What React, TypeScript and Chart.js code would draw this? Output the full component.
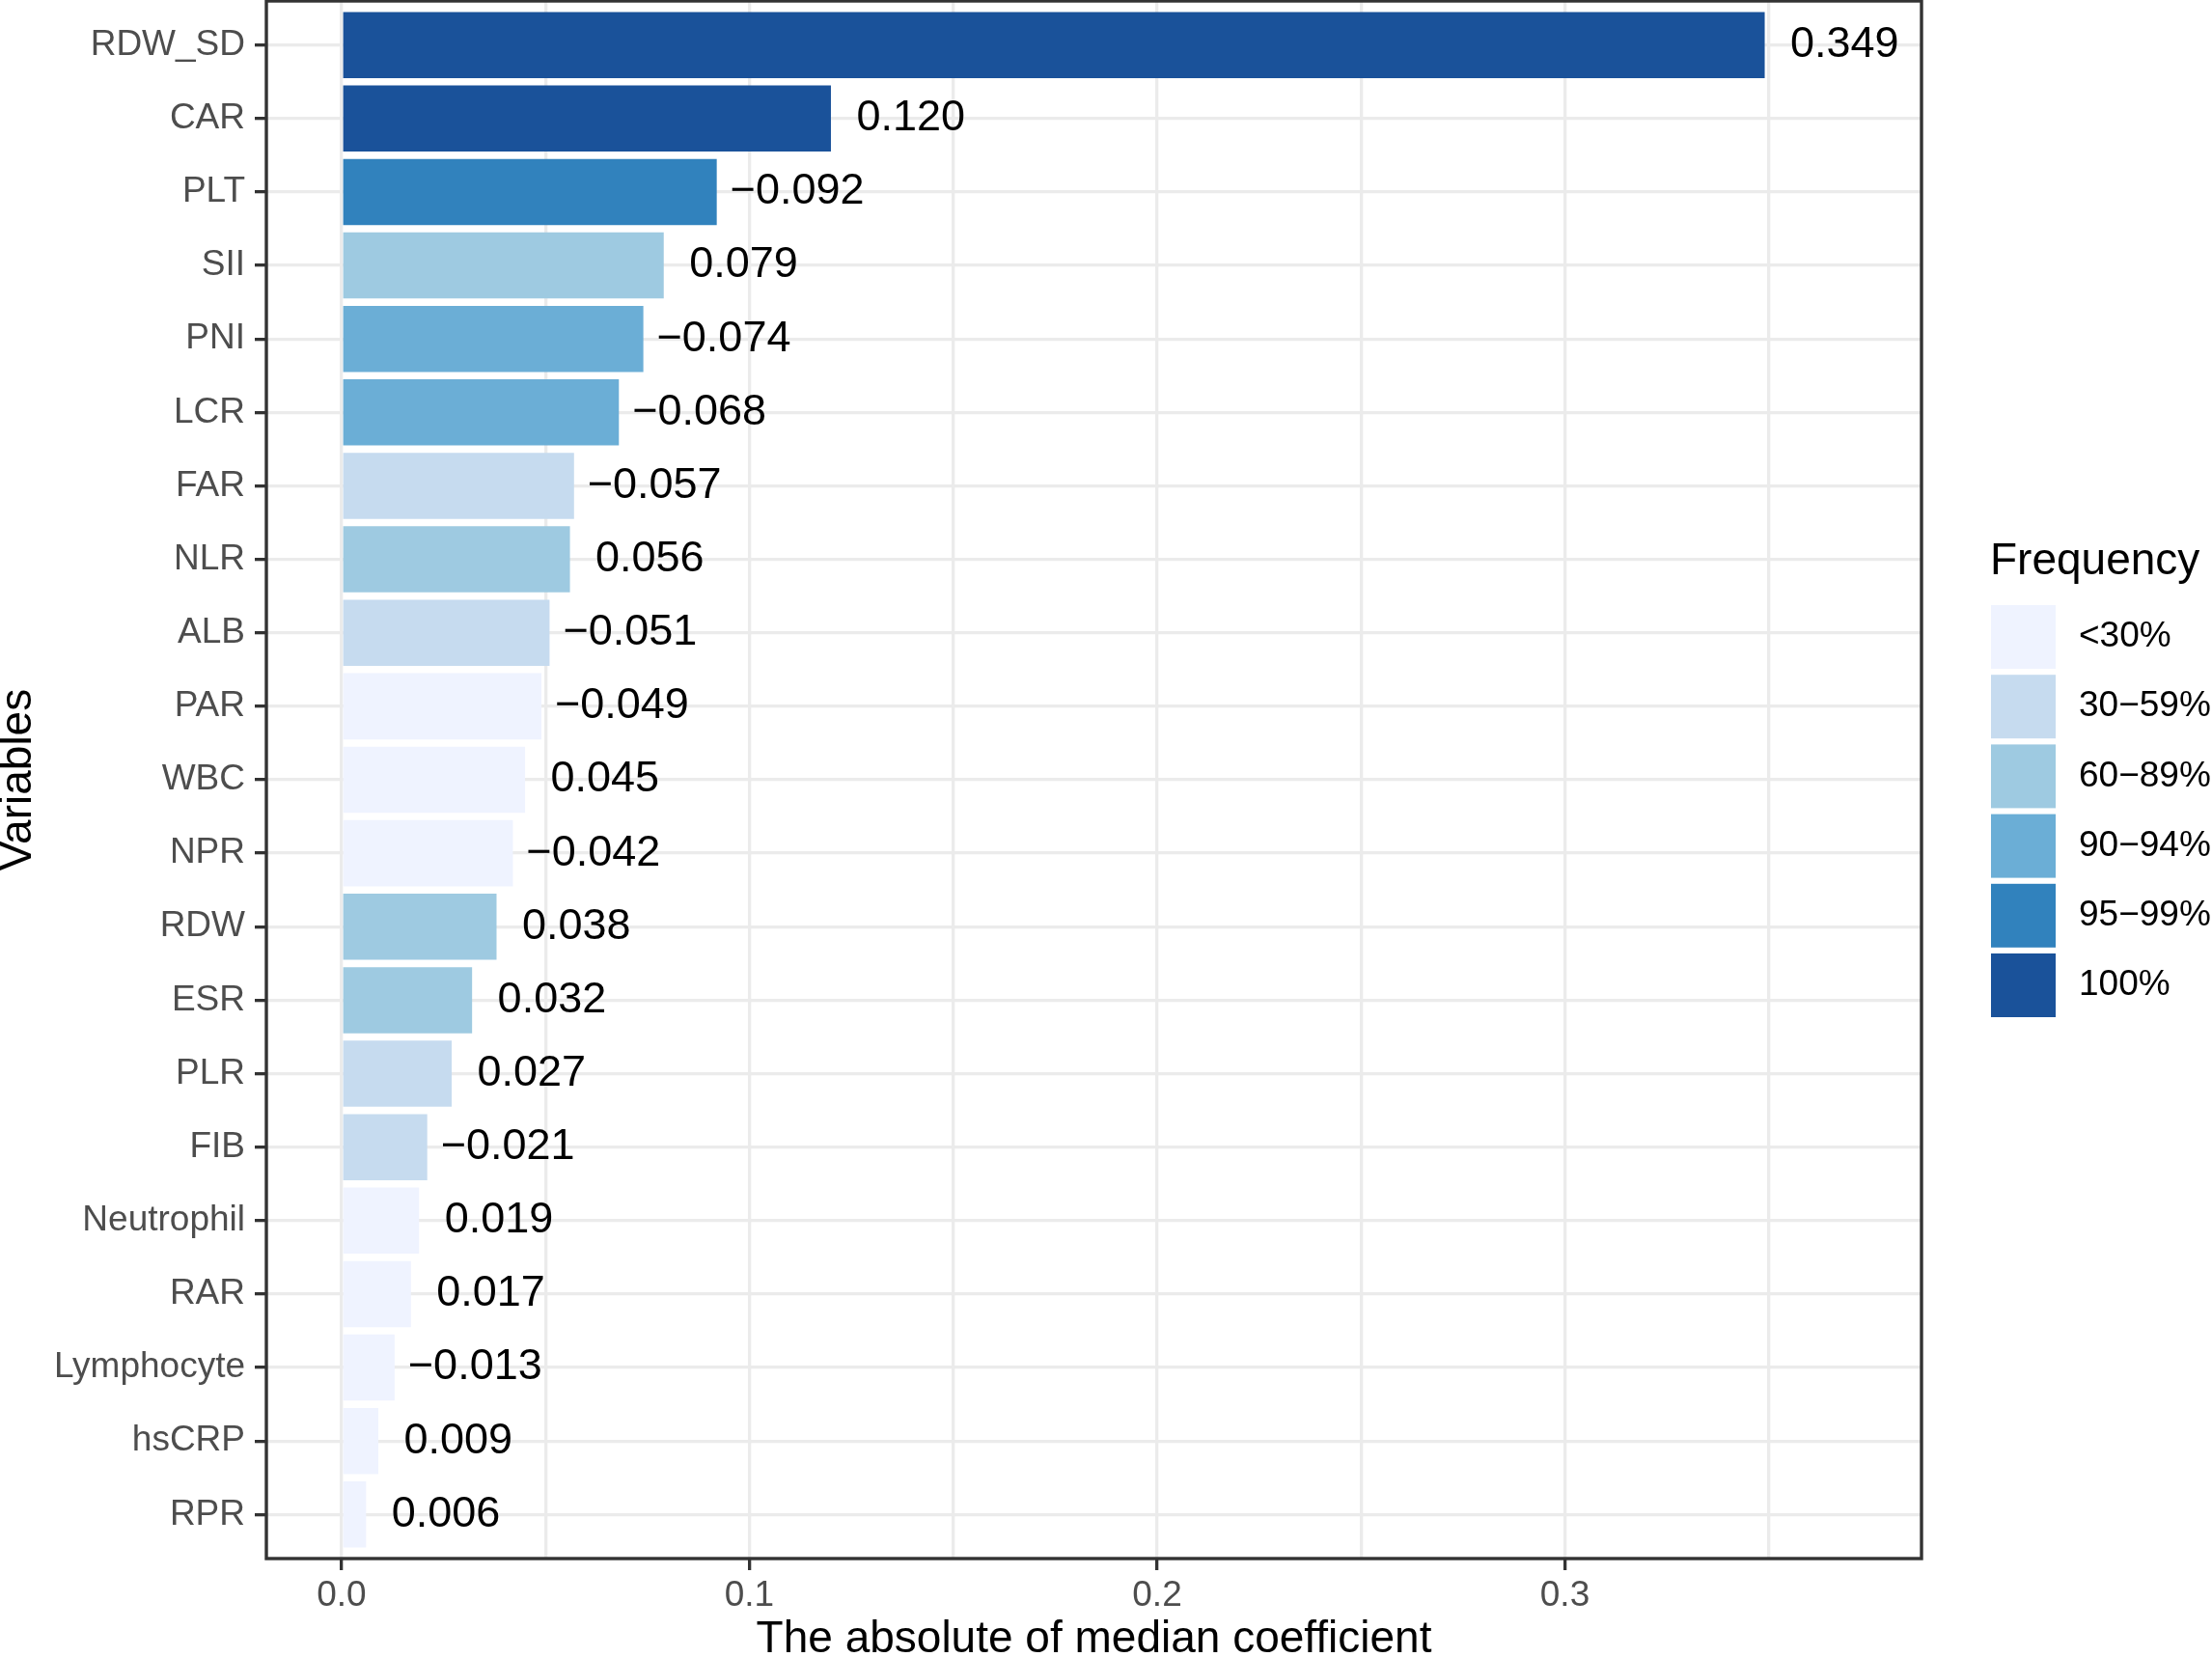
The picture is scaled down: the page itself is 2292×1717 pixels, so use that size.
import React, { useEffect, useRef } from 'react';
import { Chart, registerables } from 'chart.js';

Chart.register(...registerables);

// variables, top to bottom
const variables = [
  'RDW_SD', 'CAR', 'PLT', 'SII', 'PNI', 'LCR', 'FAR', 'NLR', 'ALB', 'PAR', 'WBC',
  'NPR', 'RDW', 'ESR', 'PLR', 'FIB', 'Neutrophil', 'RAR', 'Lymphocyte', 'hsCRP', 'RPR',
];

// median coefficient (signed), the bar shows its absolute value
const medianCoef = [
  0.349, 0.12, -0.092, 0.079, -0.074, -0.068, -0.057, 0.056, -0.051, -0.049, 0.045,
  -0.042, 0.038, 0.032, 0.027, -0.021, 0.019, 0.017, -0.013, 0.009, 0.006,
];

const freqLabels = ['<30%', '30\u221259%', '60\u221289%', '90\u221294%', '95\u221299%', '100%'];
const freqColors = ['#EFF3FF', '#C6DBEF', '#9ECAE1', '#6BAED6', '#3182BD', '#1A529A'];

// frequency group of each variable (index into freqLabels)
const freqGroup = [5, 5, 4, 2, 3, 3, 1, 2, 1, 0, 0, 0, 2, 2, 1, 1, 0, 0, 0, 0, 0];

const xTicks = [0, 0.1, 0.2, 0.3];

const FONT = '"Liberation Sans", Arial, Helvetica, sans-serif';
const W = 2292;
const H = 1717;
const LABEL_NUDGE = 0.0033;

const fmt = (v: number) => (v < 0 ? '\u2212' : ' ') + Math.abs(v).toFixed(3);
const isMajor = (v: number) => xTicks.some((t) => Math.abs(t - v) < 1e-9);

const valueLabels = {
  id: 'valueLabels',
  afterDatasetsDraw(chart: any) {
    const { ctx, chartArea, scales } = chart;
    const meta = chart.getDatasetMeta(0);

    ctx.save();
    ctx.font = `45px ${FONT}`;
    ctx.fillStyle = '#000000';
    ctx.textAlign = 'left';
    ctx.textBaseline = 'middle';
    meta.data.forEach((bar: any, i: number) => {
      const x = scales.x.getPixelForValue(Math.abs(medianCoef[i]) + LABEL_NUDGE);
      ctx.fillText(fmt(medianCoef[i]), x, bar.y);
    });
    ctx.restore();

    // panel border
    ctx.save();
    ctx.strokeStyle = '#333333';
    ctx.lineWidth = 3.4;
    ctx.strokeRect(chartArea.left, chartArea.top, chartArea.right - chartArea.left, chartArea.bottom - chartArea.top);
    ctx.restore();
  },
};

const freqLegend = {
  id: 'freqLegend',
  afterDraw(chart: any) {
    const { ctx, chartArea } = chart;
    const left = chartArea.right + 72;
    const keyW = 67;
    const keyH = 66;
    const pitch = 72.2;
    const top = 627;

    ctx.save();
    ctx.fillStyle = '#000000';
    ctx.font = `46px ${FONT}`;
    ctx.textAlign = 'left';
    ctx.textBaseline = 'alphabetic';
    ctx.fillText('Frequency', left - 1, 595);

    ctx.font = `37px ${FONT}`;
    ctx.textBaseline = 'middle';
    freqLabels.forEach((lab, i) => {
      const y = top + i * pitch;
      ctx.fillStyle = freqColors[i];
      ctx.fillRect(left, y, keyW, keyH);
      ctx.fillStyle = '#000000';
      ctx.fillText(lab, left + keyW + 24, y + keyH / 2);
    });
    ctx.restore();
  },
};

const App = () => {
  const chartRef = useRef<HTMLCanvasElement>(null);

  useEffect(() => {
    const chart = new Chart(chartRef.current as HTMLCanvasElement, {
      type: 'bar',
      data: {
        datasets: [
          {
            data: medianCoef.map((v, i) => ({ x: Math.abs(v), y: i })),
            backgroundColor: freqGroup.map((g) => freqColors[g]),
            borderWidth: 0,
            barPercentage: 0.9,
            categoryPercentage: 1,
          },
        ],
      },
      options: {
        indexAxis: 'y',
        animation: false,
        responsive: false,
        devicePixelRatio: 1,
        layout: { padding: { top: 1, right: 301, bottom: 0, left: 0 } },
        scales: {
          x: {
            type: 'linear',
            min: -0.01845,
            max: 0.38745,
            afterFit: (scale: any) => {
              scale.height = 102;
              scale.paddingLeft = 0;
              scale.paddingRight = 0;
            },
            border: { display: false },
            grid: {
              color: '#EBEBEB',
              lineWidth: 3.3,
              tickLength: 12,
              tickWidth: 3.3,
              tickColor: (c: any) => (isMajor(c.tick?.value) ? '#333333' : 'rgba(0,0,0,0)'),
            },
            ticks: {
              stepSize: 0.05,
              includeBounds: false,
              autoSkip: false,
              maxRotation: 0,
              padding: 5,
              color: '#4D4D4D',
              font: { size: 37, family: FONT },
              callback: (v: any) => (isMajor(Number(v)) ? Number(v).toFixed(1) : ''),
            },
            title: {
              display: true,
              text: 'The absolute of median coefficient',
              color: '#000000',
              font: { size: 46, family: FONT, lineHeight: 0.75 },
              padding: { top: 0, bottom: 0 },
            },
          },
          y: {
            type: 'linear',
            reverse: true,
            offset: false,
            min: -0.6,
            max: variables.length - 0.4,
            afterFit: (scale: any) => {
              scale.width = 276;
              scale.paddingTop = 0;
              scale.paddingBottom = 0;
            },
            border: { display: false },
            grid: {
              offset: false,
              color: '#EBEBEB',
              lineWidth: 3.3,
              tickLength: 12,
              tickWidth: 3.3,
              tickColor: '#333333',
            },
            ticks: {
              stepSize: 1,
              maxTicksLimit: 40,
              includeBounds: false,
              autoSkip: false,
              padding: 10,
              color: '#4D4D4D',
              font: { size: 37, family: FONT },
              callback: (v: any) => (Number.isInteger(Number(v)) ? variables[Number(v)] ?? '' : ''),
            },
            title: {
              display: true,
              text: 'Variables',
              color: '#000000',
              font: { size: 46, family: FONT, lineHeight: 0.82 },
              padding: { top: 0, bottom: 0 },
            },
          },
        },
        plugins: {
          legend: { display: false },
          tooltip: { enabled: false },
        },
      },
      plugins: [valueLabels, freqLegend],
    });

    return () => chart.destroy();
  }, []);

  return (
    <div style={{ position: 'fixed', left: 0, top: 0, width: W, height: H, background: '#ffffff' }}>
      <canvas ref={chartRef} width={W} height={H} />
    </div>
  );
};

export default App;
